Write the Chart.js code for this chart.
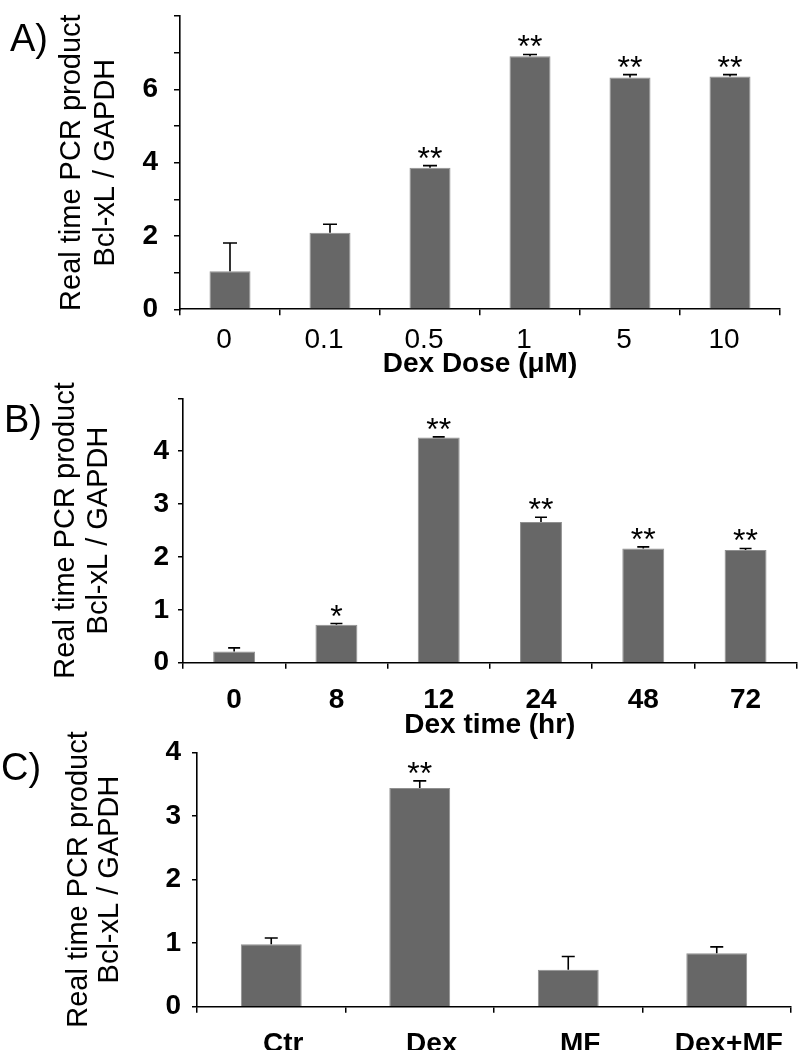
<!DOCTYPE html>
<html><head><meta charset="utf-8">
<script src="https://cdn.jsdelivr.net/npm/chart.js@4.4.1/dist/chart.umd.min.js"></script>
<style>
html,body{margin:0;padding:0;background:#fff;}
#wrap{position:relative;width:802px;height:1050px;overflow:hidden;background:#fff;}
canvas{position:absolute;left:0;top:0;}
.pl{position:absolute;font-family:'Liberation Sans',Arial,sans-serif;font-size:38px;line-height:38px;color:#000;white-space:nowrap;}
</style></head><body>
<div id="wrap">
<canvas id="cA" width="802" height="1050"></canvas>
<canvas id="cB" width="802" height="1050"></canvas>
<canvas id="cC" width="802" height="1050"></canvas>
<div class="pl" style="left:10px;top:19px">A)</div>
<div class="pl" style="left:4px;top:400px">B)</div>
<div class="pl" style="left:1px;top:748px">C)</div>
</div>
<script>
// ---- data ----
const yTitle = ['Real time PCR product', 'Bcl-xL / GAPDH'];

const doseLabels = ['0', '0.1', '0.5', '1', '5', '10'];
const doseMeans  = [1.04, 2.09, 3.86, 6.90, 6.32, 6.35];
const doseErrors = [0.77, 0.23, 0.06, 0.05, 0.08, 0.05];
const doseSig    = ['', '', '**', '**', '**', '**'];
const doseYTicks = [0, 2, 4, 6];
const doseXTitle = 'Dex Dose (\u03bcM)';

const timeLabels = ['0', '8', '12', '24', '48', '72'];
const timeMeans  = [0.21, 0.72, 4.26, 2.66, 2.16, 2.13];
const timeErrors = [0.07, 0.02, 0.01, 0.09, 0.03, 0.03];
const timeSig    = ['', '*', '**', '**', '**', '**'];
const timeYTicks = [0, 1, 2, 3, 4];
const timeXTitle = 'Dex time (hr)';

const treatLabels = ['Ctr', 'Dex', 'MF', 'Dex+MF'];
const treatMeans  = [0.98, 3.44, 0.58, 0.84];
const treatErrors = [0.10, 0.11, 0.21, 0.10];
const treatSig    = ['', '**', '', ''];
const treatYTicks = [0, 1, 2, 3, 4];

// ---- drawing ----
const FONT = "'Liberation Sans', Arial, Helvetica, sans-serif";
Chart.defaults.font.family = FONT;
Chart.defaults.color = '#000';

const errorBarPlugin = {
  id: 'errbars',
  afterDatasetsDraw(chart, args, opts) {
    const ctx = chart.ctx;
    const y = chart.scales.y;
    const meta = chart.getDatasetMeta(0);
    const vals = chart.data.datasets[0].data;
    ctx.save();
    ctx.strokeStyle = '#000';
    ctx.lineWidth = 1.6;
    meta.data.forEach((bar, i) => {
      const v = vals[i], e = opts.errors[i];
      const y0 = y.getPixelForValue(v), y1 = y.getPixelForValue(v + e);
      ctx.beginPath();
      ctx.moveTo(bar.x, y0); ctx.lineTo(bar.x, y1);
      ctx.moveTo(bar.x - opts.cap / 2, y1); ctx.lineTo(bar.x + opts.cap / 2, y1);
      ctx.stroke();
      const s = opts.sig[i];
      if (s) {
        ctx.font = '32px ' + FONT;
        ctx.fillStyle = '#000';
        ctx.textAlign = 'center';
        ctx.textBaseline = 'alphabetic';
        ctx.fillText(s, bar.x, y1 + 3);
      }
    });
    ctx.restore();
  }
};

function build(id, d, g) {
  return new Chart(document.getElementById(id), {
    type: 'bar',
    data: {
      labels: d.labels,
      datasets: [{
        data: d.values,
        backgroundColor: '#676767',
        borderColor: '#909090',
        borderWidth: 1,
        barPercentage: 0.41,
        categoryPercentage: 1
      }]
    },
    options: {
      responsive: false,
      animation: false,
      devicePixelRatio: 1,
      layout: { padding: { left: 0, top: g.top, right: 802 - g.right, bottom: 1050 - g.xBottom } },
      plugins: {
        legend: { display: false },
        tooltip: { enabled: false },
        errbars: { errors: d.errors, sig: d.sig, cap: g.cap }
      },
      scales: {
        x: {
          grid: { display: true, drawOnChartArea: false, offset: true, color: '#000', lineWidth: 1.5,
                  tickColor: '#000', tickLength: 6, tickWidth: 1.5 },
          border: { display: true, color: '#000', width: 1.6 },
          ticks: { autoSkip: false, maxRotation: 0, minRotation: 0, padding: g.xTickPad, labelOffset: g.xLabelOffset,
                   color: '#000', font: { size: 28, weight: g.xBold ? 'bold' : 'normal', lineHeight: 1.2 } },
          title: { display: !!d.xTitle, text: d.xTitle || '', color: '#000', padding: 0,
                   font: { size: 28, weight: 'bold', lineHeight: 1.2 } },
          afterFit(s) { s.height = g.xBottom - g.bottom; s.paddingLeft = 0; s.paddingRight = 0; }
        },
        y: {
          min: 0, max: d.yMax,
          ticks: { stepSize: d.yStep, padding: g.yTickPad, color: '#000',
                   font: { size: 28, weight: 'bold', lineHeight: 1.2 },
                   callback: (v) => d.yTicks.includes(v) ? String(v) : '' },
          grid: { display: true, drawOnChartArea: false, color: '#000', lineWidth: 1.5,
                  tickColor: '#000', tickLength: g.yTickLen, tickWidth: 1.5 },
          border: { display: true, color: '#000', width: 1.6 },
          title: { display: true, text: yTitle, color: '#000',
                   padding: { top: g.titlePad, bottom: 0 },
                   font: { size: 29, weight: 'normal', lineHeight: g.titleLH + 'px' } },
          afterFit(s) { s.width = g.left; s.paddingTop = 0; s.paddingBottom = 0; }
        }
      }
    },
    plugins: [errorBarPlugin]
  });
}

build('cA',
  { labels: doseLabels, values: doseMeans, errors: doseErrors, sig: doseSig,
    yMax: 8, yStep: 1, yTicks: doseYTicks, xTitle: doseXTitle },
  { left: 180, right: 780, top: 16, bottom: 309.3, xBottom: 380.8, yTickPad: 16, yTickLen: 6,
    titlePad: 54.5, titleLH: 34, cap: 14, xTickPad: 8, xLabelOffset: -6, xBold: false });

build('cB',
  { labels: timeLabels, values: timeMeans, errors: timeErrors, sig: timeSig,
    yMax: 5, yStep: 1, yTicks: timeYTicks, xTitle: timeXTitle },
  { left: 183, right: 796.7, top: 398.3, bottom: 662.7, xBottom: 742, yTickPad: 9, yTickLen: 5,
    titlePad: 49.75, titleLH: 32.5, cap: 12, xTickPad: 15, xLabelOffset: 0, xBold: true });

build('cC',
  { labels: treatLabels, values: treatMeans, errors: treatErrors, sig: treatSig,
    yMax: 4, yStep: 0.5, yTicks: treatYTicks, xTitle: '' },
  { left: 197, right: 791, top: 752.3, bottom: 1006.7, xBottom: 1050, yTickPad: 11, yTickLen: 5,
    titlePad: 63.5, titleLH: 31, cap: 13, xTickPad: 14.5, xLabelOffset: 12, xBold: true });
</script>
</body></html>
